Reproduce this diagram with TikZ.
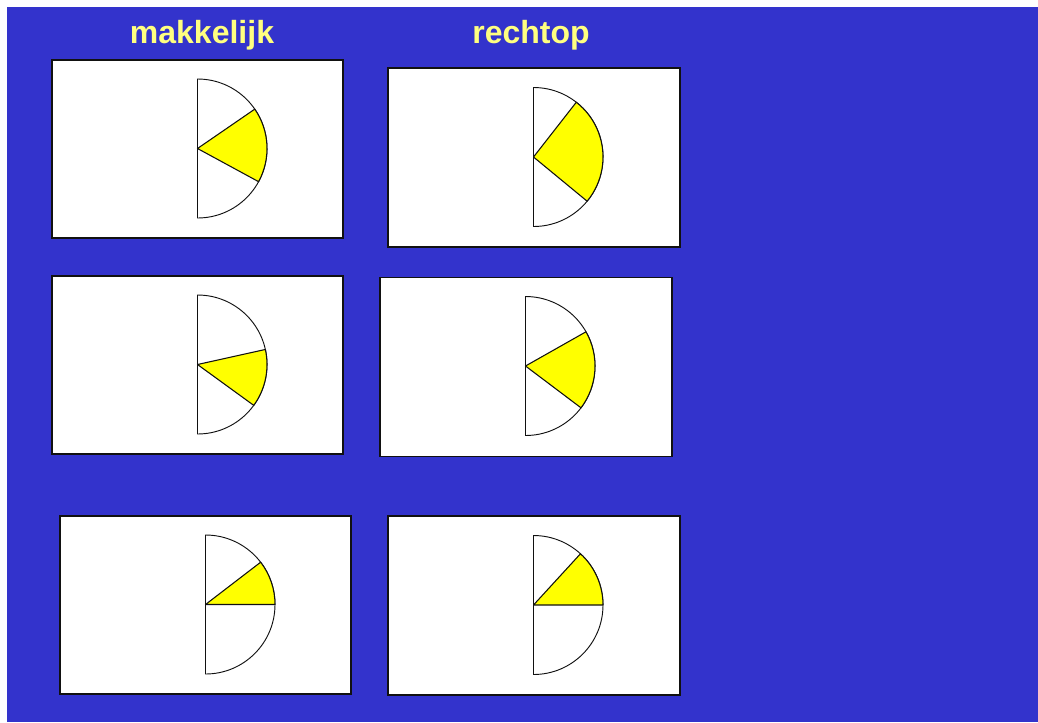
\documentclass[tikz,border=0pt]{standalone}
\usepackage{fontspec}
\setmainfont{Liberation Sans}
\usepackage{xcolor}
\usepackage{tikz}
\usetikzlibrary{positioning}
\definecolor{cBack}{HTML}{3333CC}
\definecolor{cTitle}{HTML}{FFFF80}
\definecolor{cWedge}{HTML}{FFFF00}
\definecolor{cLine}{HTML}{111111}

\begin{document}
\begin{tikzpicture}[
  x=0.75pt, y=0.75pt,
  title/.style={text=cTitle, font=\bfseries\fontsize{24}{28}\selectfont, anchor=base, inner sep=0pt},
  panel/.style={draw=cLine, fill=white, line width=0.9pt, inner sep=0pt},
  small/.style={minimum width=218.25pt, minimum height=133.5pt},
  wide/.style={minimum width=219pt, minimum height=134.25pt},
  half/.style={draw=cLine, fill=white, line width=0.7pt, line join=round},
  wedge/.style={draw=cLine, fill=cWedge, line width=0.8pt, line join=round},
]
\useasboundingbox (0,0) rectangle (1038,-722);
\fill[white] (0,0) rectangle (1038,-722);
\fill[cBack] (7,-7) rectangle (1038,-722);

\node[title] (tEasy) at (202,-43) {makkelijk};
\node[title] (tUp) at (531,-43) {rechtop};

\node[panel, small] (p1) at (197.5,-149) {};
\node[panel, wide] (p2) at (534,-157.5) {};
\node[panel, small] (p3) at (197.5,-365) {};
\node[panel, wide] (p4) at (526,-367) {};
\node[panel, small] (p5) at (205.5,-605) {};
\node[panel, wide] (p6) at (534,-605.5) {};

\coordinate (f1) at (197.5,-148.5);
\coordinate (f2) at (533.5,-157);
\coordinate (f3) at (197.5,-364.5);
\coordinate (f4) at (525.5,-366);
\coordinate (f5) at (205.5,-604.5);
\coordinate (f6) at (533.5,-605);

% makkelijk
\draw[half] (f1) ++(0,69.5) arc[start angle=90, end angle=-90, radius=69.5] -- cycle;
\draw[wedge] (f1) -- ++(-28.5:69.5) arc[start angle=-28.5, end angle=34.5, radius=69.5] -- cycle;
\draw[half] (f3) ++(0,69.5) arc[start angle=90, end angle=-90, radius=69.5] -- cycle;
\draw[wedge] (f3) -- ++(-36:69.5) arc[start angle=-36, end angle=12.5, radius=69.5] -- cycle;
\draw[half] (f5) ++(0,69.5) arc[start angle=90, end angle=-90, radius=69.5] -- cycle;
\draw[wedge] (f5) -- ++(0:69.5) arc[start angle=0, end angle=37.5, radius=69.5] -- cycle;

% rechtop
\draw[half] (f2) ++(0,69.5) arc[start angle=90, end angle=-90, radius=69.5] -- cycle;
\draw[wedge] (f2) -- ++(-39.5:69.5) arc[start angle=-39.5, end angle=52, radius=69.5] -- cycle;
\draw[half] (f4) ++(0,69.5) arc[start angle=90, end angle=-90, radius=69.5] -- cycle;
\draw[wedge] (f4) -- ++(-37:69.5) arc[start angle=-37, end angle=29.5, radius=69.5] -- cycle;
\draw[half] (f6) ++(0,69.5) arc[start angle=90, end angle=-90, radius=69.5] -- cycle;
\draw[wedge] (f6) -- ++(0:69.5) arc[start angle=0, end angle=47.5, radius=69.5] -- cycle;
\end{tikzpicture}
\end{document}
